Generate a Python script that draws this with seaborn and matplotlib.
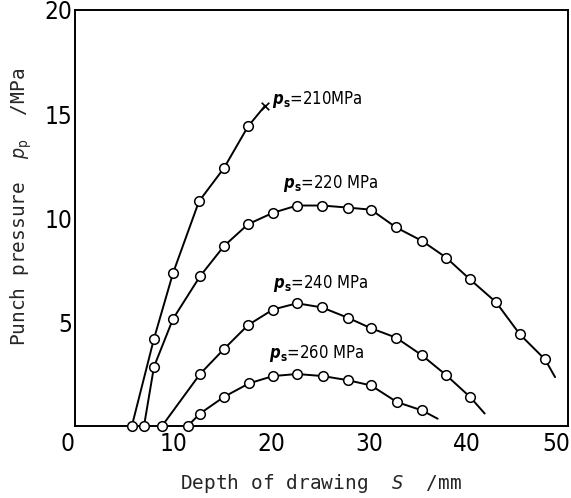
import numpy as np
import pandas as pd
import matplotlib
matplotlib.use("Agg")
import matplotlib.pyplot as plt
from matplotlib.transforms import ScaledTranslation
import seaborn as sns

# ---- data ----
x_210 = [5.8, 8.06, 10.0, 12.65, 15.2, 17.65]
y_210 = [0.0, 4.2, 7.35, 10.8, 12.4, 14.4]
x_210_end = [19.4]
y_210_end = [15.4]

x_220 = [7.04, 8.06, 10.0, 12.76, 15.2, 17.65, 20.2, 22.65, 25.2, 27.86, 30.2,
         32.75, 35.4, 37.86, 40.3, 42.96, 45.4, 47.96]
y_220 = [0.0, 2.85, 5.15, 7.2, 8.65, 9.7, 10.25, 10.6, 10.6, 10.5, 10.4,
         9.55, 8.9, 8.1, 7.05, 5.95, 4.4, 3.2]
x_220_end = [48.98]
y_220_end = [2.35]

x_240 = [8.88, 12.76, 15.2, 17.65, 20.2, 22.65, 25.2, 27.86, 30.2, 32.75, 35.4,
         37.86, 40.3]
y_240 = [0.0, 2.5, 3.7, 4.85, 5.6, 5.9, 5.7, 5.2, 4.7, 4.25, 3.4, 2.45, 1.4]
x_240_end = [41.8]
y_240_end = [0.6]

x_260 = [11.5, 12.76, 15.2, 17.76, 20.2, 22.65, 25.3, 27.86, 30.2, 32.85, 35.4]
y_260 = [0.0, 0.6, 1.4, 2.05, 2.4, 2.5, 2.4, 2.2, 1.95, 1.15, 0.75]
x_260_end = [37.0]
y_260_end = [0.35]

series_names = ["210", "220", "240", "260"]
labels = [r"$\mathbfit{p}_{\mathbf{s}}$=210MPa",
          r"$\mathbfit{p}_{\mathbf{s}}$=220 MPa",
          r"$\mathbfit{p}_{\mathbf{s}}$=240 MPa",
          r"$\mathbfit{p}_{\mathbf{s}}$=260 MPa"]
label_x = [20.1, 21.2, 20.2, 19.8]
label_y = [15.5, 11.45, 6.63, 3.27]

x_ticks = [0, 10, 20, 30, 40, 50]
y_ticks = [5, 10, 15, 20]

# ---- build tables ----
pts = pd.concat([
    pd.DataFrame({"x": x_210, "y": y_210, "s": "210"}),
    pd.DataFrame({"x": x_220, "y": y_220, "s": "220"}),
    pd.DataFrame({"x": x_240, "y": y_240, "s": "240"}),
    pd.DataFrame({"x": x_260, "y": y_260, "s": "260"}),
], ignore_index=True)
lines = pd.concat([
    pd.DataFrame({"x": x_210 + x_210_end, "y": y_210 + y_210_end, "s": "210"}),
    pd.DataFrame({"x": x_220 + x_220_end, "y": y_220 + y_220_end, "s": "220"}),
    pd.DataFrame({"x": x_240 + x_240_end, "y": y_240 + y_240_end, "s": "240"}),
    pd.DataFrame({"x": x_260 + x_260_end, "y": y_260 + y_260_end, "s": "260"}),
], ignore_index=True)
cross = pd.DataFrame({"x": x_210_end, "y": y_210_end})

# ---- style ----
sns.set_style("white")
plt.rcParams["font.family"] = ["DejaVu Sans"]
plt.rcParams["font.stretch"] = "condensed"
plt.rcParams["mathtext.fontset"] = "custom"
plt.rcParams["mathtext.rm"] = "DejaVu Sans:stretch=condensed"
plt.rcParams["mathtext.it"] = "DejaVu Sans:style=italic:stretch=condensed"
plt.rcParams["mathtext.bf"] = "DejaVu Sans:weight=bold:stretch=condensed"
plt.rcParams["mathtext.bfit"] = "DejaVu Sans:style=italic:weight=bold:stretch=condensed"

fig = plt.figure(figsize=(5.71, 4.98), dpi=100)
ax = fig.add_axes([75 / 571, (498 - 426) / 498, 493 / 571, 416 / 498])

pal = {n: "black" for n in series_names}
sns.lineplot(data=lines, x="x", y="y", hue="s", palette=pal, sort=False,
             estimator=None, legend=False, linewidth=1.4, ax=ax, zorder=3)
sns.scatterplot(data=pts, x="x", y="y", marker="o", s=48, facecolor="white",
                edgecolor="black", linewidth=1.1, legend=False, ax=ax,
                zorder=5, clip_on=False)
sns.scatterplot(data=cross, x="x", y="y", marker="x", s=30, color="black",
                linewidth=1.2, legend=False, ax=ax, zorder=5)

for t, lx, ly in zip(labels, label_x, label_y):
    ax.text(lx, ly, t, fontsize=12, ha="left", va="baseline", color="black",
            fontstretch="condensed")

ax.set_xlim(0, 50.3)
ax.set_ylim(0, 20.0)
ax.set_xticks(x_ticks)
ax.set_xticklabels([str(v) for v in x_ticks], fontstretch="condensed")
ax.set_yticks(y_ticks)
ax.set_yticklabels([str(v) for v in y_ticks], fontstretch="condensed")
ax.tick_params(axis="both", length=0, labelsize=17.5, colors="black")
ax.tick_params(axis="x", pad=4)
ax.tick_params(axis="y", pad=2)
xl = ax.get_xticklabels()
xl[0].set_transform(xl[0].get_transform() + ScaledTranslation(-7 / 100, 0, fig.dpi_scale_trans))
xl[-1].set_transform(xl[-1].get_transform() + ScaledTranslation(-9 / 100, 0, fig.dpi_scale_trans))

for sp in ax.spines.values():
    sp.set_color("black")
    sp.set_linewidth(1.4)

ax.set_xlabel(r"Depth of drawing  $\mathit{S}$  /mm", fontsize=14,
              family="DejaVu Sans Mono", labelpad=12)
ax.set_ylabel(r"Punch pressure  $\mathit{p}_{\mathrm{p}}$  /MPa", fontsize=14,
              family="DejaVu Sans Mono", va="center")
ax.yaxis.set_label_coords(-0.109, 0.526)

fig.savefig("out.png", dpi=100)
